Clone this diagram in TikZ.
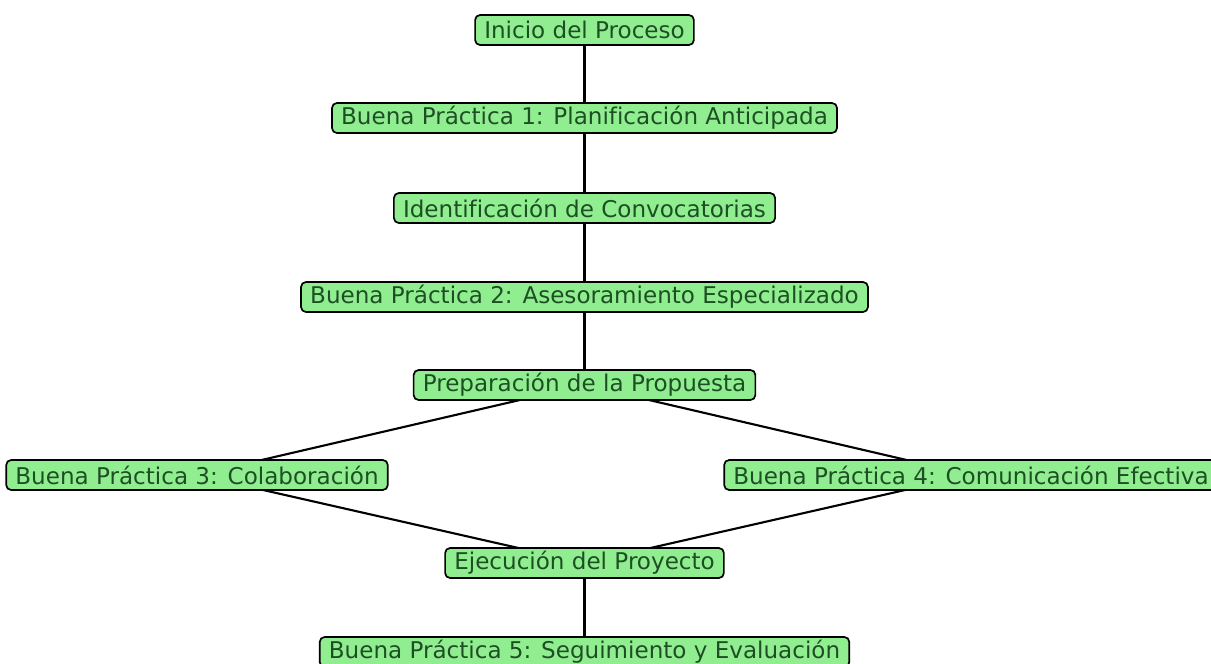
\documentclass[tikz,border=0pt]{standalone}
\usepackage{fontspec}
\setmainfont{DejaVu Sans}[Ligatures=NoCommon]
\usepackage{xcolor}
\usepackage{tikz}
\usetikzlibrary{backgrounds}
\definecolor{verdeclaro}{HTML}{90EE90}
\definecolor{verdetexto}{HTML}{1E4F24}
\tikzset{paso node/.style={rectangle,rounded corners=3.5pt,draw=black,line width=1.2pt,fill=verdeclaro,text=verdetexto,
            font=\fontsize{16.4}{19}\selectfont,minimum height=0.75cm,inner xsep=6.5pt,inner ysep=0pt},
            enlace/.style={line width=1.5pt,black},
            }

\begin{document}
\begin{tikzpicture}[x=0.025cm,y=-0.025cm]
	\useasboundingbox (0,0) rectangle (1211,664);
	\node[paso node] (A) at (584.5,30) {Inicio del Proceso};
	\node[paso node] (B) at (584.5,118) {Buena Práctica 1: Planificación Anticipada};
	\node[paso node] (C) at (584.5,208) {Identificación de Convocatorias};
	\node[paso node] (D) at (584.5,297) {Buena Práctica 2: Asesoramiento Especializado};
	\node[paso node] (E) at (584.5,385) {Preparación de la Propuesta};
	\node[paso node] (F) at (197,475) {Buena Práctica 3: Colaboración};
	\node[paso node] (G) at (971,475) {Buena Práctica 4: Comunicación Efectiva};
	\node[paso node] (H) at (584.5,563) {Ejecución del Proyecto};
	\node[paso node] (I) at (584.5,652) {Buena Práctica 5: Seguimiento y Evaluación};
	
	\begin{scope}[on background layer]
		\draw[enlace] (A.center) to (B.center);
		\draw[enlace] (B.center) to (C.center);
		\draw[enlace] (C.center) to (D.center);
		\draw[enlace] (D.center) to (E.center);
		\draw[enlace] (E.center) to (F.center);
		\draw[enlace] (E.center) to (G.center);
		\draw[enlace] (F.center) to (H.center);
		\draw[enlace] (G.center) to (H.center);
		\draw[enlace] (H.center) to (I.center);
	\end{scope}
\end{tikzpicture}
\end{document}
